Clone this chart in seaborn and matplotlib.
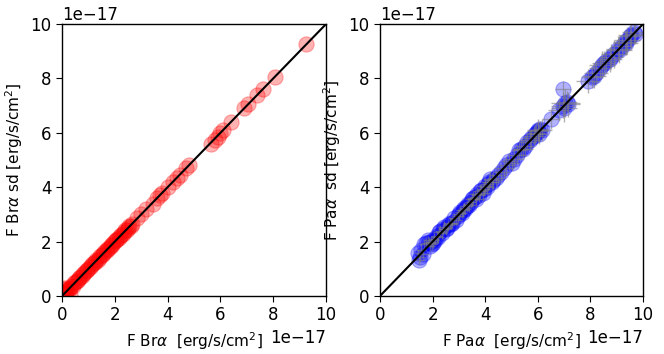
import matplotlib
matplotlib.use("Agg")
import matplotlib.pyplot as plt
from matplotlib.ticker import ScalarFormatter
import seaborn as sns
import pandas as pd

# fluxes in units of 1e-17 erg/s/cm2
br_x = [0.05, 0.10, 0.15, 0.20, 0.25, 0.30, 0.35, 0.40, 0.45, 0.50, 0.55, 0.60, 0.65, 0.70,
        0.75, 0.80, 0.85, 0.90, 0.95, 1.00, 1.05, 1.10, 1.15, 1.20, 1.25, 1.30, 1.35, 1.40,
        1.45, 1.50, 1.55, 1.60, 1.65, 1.70, 1.75, 1.80, 1.85, 1.90, 1.95, 2.00, 2.05, 2.10,
        2.15, 2.20, 2.25, 2.30, 2.35, 2.40, 2.45, 2.50, 2.55, 2.60, 2.65, 0.30, 0.12, 0.05,
        2.85, 3.00, 3.20, 3.45, 3.60, 3.70, 3.80, 4.00, 4.20, 4.35, 4.45, 4.70, 4.80,
        5.65, 5.80, 5.90, 6.00, 6.10, 6.40, 6.90, 7.05, 7.40, 7.60, 8.05, 9.25]
br_y = [0.08, 0.12, 0.14, 0.22, 0.24, 0.31, 0.36, 0.38, 0.47, 0.50, 0.56, 0.58, 0.66, 0.71,
        0.74, 0.81, 0.84, 0.91, 0.96, 0.99, 1.06, 1.09, 1.16, 1.21, 1.24, 1.31, 1.34, 1.41,
        1.46, 1.49, 1.56, 1.61, 1.64, 1.71, 1.74, 1.81, 1.86, 1.89, 1.96, 2.01, 2.04, 2.11,
        2.14, 2.21, 2.26, 2.29, 2.36, 2.41, 2.44, 2.51, 2.56, 2.59, 2.66, 0.05, 0.30, 0.25,
        2.85, 3.00, 3.20, 3.40, 3.60, 3.70, 3.80, 4.00, 4.20, 4.35, 4.45, 4.70, 4.80,
        5.60, 5.75, 5.85, 6.00, 6.10, 6.40, 6.90, 7.05, 7.40, 7.60, 8.05, 9.25]

pa_x = [1.48, 1.45, 1.55, 1.62, 1.75, 1.82, 1.90, 1.95, 2.00, 2.05, 2.10, 2.20, 2.30, 2.35,
        2.45, 2.50, 2.60, 2.70, 2.80, 2.90, 3.00, 3.10, 3.20, 3.30, 3.35, 3.45, 3.50, 3.60,
        3.70, 3.75, 3.85, 3.95, 4.00, 4.10, 4.20, 4.30, 4.40, 4.60, 4.80, 4.90, 5.00, 5.20,
        5.35, 5.50, 5.60, 5.75, 5.85, 5.95, 6.00, 6.05, 6.10, 6.50, 6.80, 6.95, 7.00, 7.05,
        7.10, 6.95, 7.90, 8.05, 8.20, 8.35, 8.50, 8.60, 8.75, 8.90, 9.05, 9.20, 9.30, 9.40,
        9.50, 9.65,
        1.52, 1.68, 1.85, 1.98, 2.15, 2.25, 2.40, 2.55, 2.65, 2.75, 2.95, 3.05, 3.15, 3.25,
        3.40, 3.55, 3.65, 3.80, 3.90, 4.05, 4.15, 4.25, 4.50, 4.70, 5.10, 5.30, 5.45, 5.70,
        5.90, 6.00, 6.15, 7.15, 8.15, 8.45, 8.80, 9.10, 9.35, 9.55, 9.70]
pa_y = [1.32, 1.58, 1.70, 1.55, 1.95, 2.05, 1.85, 2.00, 1.95, 2.10, 2.05, 2.15, 2.40, 2.30,
        2.55, 2.45, 2.60, 2.65, 2.85, 2.80, 3.00, 3.05, 3.25, 3.30, 3.40, 3.45, 3.55, 3.65,
        3.75, 3.70, 3.90, 3.95, 4.05, 4.10, 4.30, 4.25, 4.35, 4.55, 4.80, 4.95, 4.90, 5.20,
        5.40, 5.50, 5.65, 5.80, 5.90, 6.00, 6.05, 5.95, 6.15, 6.50, 6.85, 7.00, 6.90, 7.10,
        7.15, 7.60, 7.90, 8.05, 8.20, 8.40, 8.55, 8.65, 8.70, 8.90, 9.10, 9.20, 9.35, 9.40,
        9.55, 9.70,
        1.45, 1.90, 2.00, 1.90, 2.20, 2.35, 2.45, 2.50, 2.70, 2.70, 2.95, 3.10, 3.15, 3.20,
        3.35, 3.60, 3.55, 3.85, 3.80, 4.00, 4.20, 4.20, 4.45, 4.70, 5.05, 5.35, 5.40, 5.75,
        5.95, 6.10, 6.10, 7.05, 8.10, 8.50, 8.80, 9.05, 9.30, 9.60, 9.65]
pa_xerr = [0.20, 0.15, 0.20, 0.25, 0.20, 0.15, 0.20, 0.25, 0.20, 0.20, 0.15, 0.25, 0.20, 0.20,
           0.25, 0.20, 0.20, 0.25, 0.20, 0.20, 0.25, 0.20, 0.20, 0.25, 0.20, 0.20, 0.25, 0.20,
           0.30, 0.25, 0.20, 0.25, 0.30, 0.25, 0.30, 0.35, 0.30, 0.30, 0.35, 0.30, 0.30, 0.35,
           0.30, 0.35, 0.30, 0.35, 0.40, 0.35, 0.40, 0.35, 0.30, 0.35, 0.40, 0.45, 0.50, 0.55,
           0.40, 0.30, 0.45, 0.40, 0.45, 0.40, 0.45, 0.40, 0.45, 0.50, 0.45, 0.40, 0.45, 0.50,
           0.40, 0.45,
           0.20, 0.20, 0.15, 0.20, 0.20, 0.25, 0.20, 0.20, 0.25, 0.20, 0.25, 0.20, 0.25, 0.20,
           0.25, 0.25, 0.30, 0.25, 0.30, 0.30, 0.30, 0.35, 0.30, 0.35, 0.35, 0.30, 0.35, 0.40,
           0.35, 0.40, 0.40, 0.45, 0.45, 0.50, 0.45, 0.50, 0.45, 0.50, 0.40]
pa_yerr = [0.20, 0.15, 0.20, 0.20, 0.20, 0.15, 0.20, 0.20, 0.20, 0.20, 0.15, 0.20, 0.20, 0.20,
           0.20, 0.20, 0.20, 0.20, 0.20, 0.20, 0.20, 0.20, 0.20, 0.20, 0.20, 0.20, 0.25, 0.20,
           0.25, 0.25, 0.20, 0.25, 0.30, 0.25, 0.30, 0.30, 0.30, 0.30, 0.35, 0.30, 0.30, 0.35,
           0.30, 0.35, 0.30, 0.35, 0.35, 0.35, 0.40, 0.35, 0.30, 0.35, 0.40, 0.45, 0.50, 0.50,
           0.40, 0.30, 0.45, 0.40, 0.45, 0.40, 0.45, 0.40, 0.45, 0.50, 0.45, 0.40, 0.45, 0.50,
           0.40, 0.45,
           0.20, 0.20, 0.15, 0.20, 0.20, 0.20, 0.20, 0.20, 0.20, 0.20, 0.25, 0.20, 0.25, 0.20,
           0.25, 0.25, 0.25, 0.25, 0.30, 0.30, 0.30, 0.30, 0.30, 0.35, 0.35, 0.30, 0.35, 0.35,
           0.35, 0.40, 0.40, 0.45, 0.45, 0.50, 0.45, 0.50, 0.45, 0.50, 0.40]
ticks = [0, 2, 4, 6, 8, 10]

scale = 1e-17
br = pd.DataFrame({"x": [v * scale for v in br_x], "y": [v * scale for v in br_y]})
pa = pd.DataFrame({"x": [v * scale for v in pa_x], "y": [v * scale for v in pa_y],
                   "xe": [v * scale for v in pa_xerr], "ye": [v * scale for v in pa_yerr]})

sns.set_style("ticks", {"text.color": "black", "axes.labelcolor": "black",
                        "xtick.color": "black", "ytick.color": "black",
                        "axes.edgecolor": "black"})
plt.rcParams["font.family"] = ["DejaVu Sans"]
plt.rcParams["mathtext.fontset"] = "dejavusans"

fig = plt.figure(figsize=(6.64, 3.54), dpi=100)
ax1 = fig.add_axes([0.0934, 0.164, 0.3976, 0.768])
ax2 = fig.add_axes([0.5723, 0.164, 0.3961, 0.768])

lim = [0, 10 * scale]

# Br alpha
sns.scatterplot(data=br, x="x", y="y", ax=ax1, color="red", alpha=0.3, s=120,
                edgecolor="red", linewidth=0.8, legend=False)
ax1.plot(lim, lim, color="black", lw=1.5)
ax1.set_xlabel(r"F Br$\alpha$  [erg/s/cm$^2$]")
ax1.set_ylabel(r"F Br$\alpha$ sd [erg/s/cm$^2$]")

# Pa alpha
ax2.errorbar(pa["x"], pa["y"], xerr=pa["xe"], yerr=pa["ye"], fmt="none",
             ecolor="gray", alpha=0.6, elinewidth=1)
sns.scatterplot(data=pa, x="x", y="y", ax=ax2, color="blue", alpha=0.3, s=120,
                edgecolor="blue", linewidth=0.8, legend=False)
ax2.plot(lim, lim, color="black", lw=1.5)
ax2.set_xlabel(r"F Pa$\alpha$  [erg/s/cm$^2$]")
ax2.set_ylabel(r"F Pa$\alpha$  sd [erg/s/cm$^2$]")

for ax in (ax1, ax2):
    ax.set_xlim(lim)
    ax.set_ylim(lim)
    ax.set_xticks([t * scale for t in ticks])
    ax.set_yticks([t * scale for t in ticks])
    for axis in (ax.xaxis, ax.yaxis):
        fmt = ScalarFormatter(useMathText=False)
        fmt.set_powerlimits((-17, -17))
        axis.set_major_formatter(fmt)
        axis.get_offset_text().set_size(12)
        axis.label.set_size(11)
    ax.tick_params(labelsize=12, length=4, color="black", labelcolor="black")
    for sp in ax.spines.values():
        sp.set_color("black")
        sp.set_linewidth(1.0)

fig.savefig("out.png", dpi=100)
